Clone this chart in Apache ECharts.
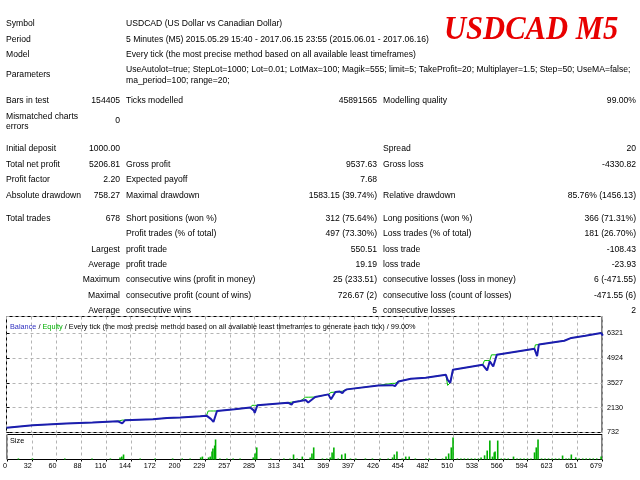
<!DOCTYPE html>
<html><head><meta charset="utf-8">
<script src="https://cdn.jsdelivr.net/npm/echarts@6/dist/echarts.min.js"></script>
<style>html,body{margin:0;padding:0;background:#fff}#c{width:640px;height:480px}</style>
</head><body><div id="c"></div><script>
// ---- chart data ----
const tradeNo = [0,30,68,98,127,129,132,135,137,167,183,198,221,228,230,233,236,240,260,278,280,282,283,286,321,323,325,327,335,341,344,346,352,367,369,370,375,380,383,385,388,424,440,443,447,461,478,501,503,506,509,543,545,548,551,553,555,559,602,603,605,607,632,634,636,644,660,678,680];
const balance = [1000,1140,1237,1293,1366,1380,1250,1420,1422,1478,1550,1574,1647,1680,1700,1500,1327,1944,2040,2135,2140,1980,1832,2264,2415,2420,2300,2440,2505,2560,2420,2320,2730,2880,2880,2600,3010,3040,2950,3080,3162,3385,3400,3347,3610,3760,3818,3986,3700,3537,4267,4547,4560,4228,4750,4600,4452,5108,5445,5460,5030,5685,5870,5790,5900,6062,6180,6342,6190];
const equity  = [1000,1140,1237,1293,1366,1430,1430,1430,1422,1478,1550,1574,1647,1680,1944,1944,1944,1944,2040,2135,2264,2264,2264,2264,2415,2440,2440,2440,2505,2720,2720,2720,2730,2880,2990,2990,3010,3040,3060,3080,3162,3385,3500,3500,3610,3760,3818,3986,3386,3537,4267,4547,4788,4788,4788,5108,5108,5108,5445,5670,5670,5685,5870,5900,5900,6062,6180,6342,6250];
const sizeTrade = [13,29,66,97,118,129,131,133,152,169,189,200,209,221,223,230,232,234,235,237,238,243,251,258,266,281,283,285,301,316,323,327,331,337,346,348,350,360,365,369,371,373,378,382,386,392,398,409,417,426,435,440,442,445,451,455,459,466,478,482,489,497,501,504,507,509,514,518,522,526,530,534,538,541,545,548,551,554,556,557,560,564,568,572,578,582,586,590,594,598,602,604,606,610,614,618,622,626,630,634,638,641,644,649,653,657,661,665,669,673,678];
const sizeLots  = [0.05,0.05,0.05,0.05,0.05,0.1,0.14,0.24,0.05,0.05,0.05,0.05,0.05,0.1,0.14,0.1,0.14,0.38,0.53,0.67,0.96,0.05,0.05,0.05,0.05,0.1,0.29,0.58,0.05,0.05,0.05,0.24,0.05,0.14,0.1,0.29,0.58,0.05,0.05,0.1,0.34,0.58,0.05,0.24,0.29,0.05,0.05,0.05,0.05,0.05,0.05,0.1,0.24,0.38,0.05,0.14,0.14,0.05,0.05,0.05,0.05,0.05,0.14,0.29,0.58,1.06,0.05,0.05,0.05,0.05,0.05,0.05,0.05,0.1,0.2,0.43,0.91,0.14,0.34,0.38,0.91,0.05,0.05,0.05,0.14,0.05,0.05,0.05,0.05,0.05,0.34,0.58,0.96,0.05,0.05,0.05,0.05,0.05,0.05,0.19,0.05,0.05,0.24,0.1,0.05,0.05,0.05,0.05,0.05,0.05,0.14];
const xTickLabels = ['0','32','60','88','116','144','172','200','229','257','285','313','341','369','397','426','454','482','510','538','566','594','623','651','679'];
const yMin = 732.4, yStep = 1397.2, xMax = 679;

// ---- report text ----
const reportRows = [
  [24,  [[6,'Symbol','left'],[126,'USDCAD (US Dollar vs Canadian Dollar)','left']]],
  [39.3,[[6,'Period','left'],[126,'5 Minutes (M5) 2015.05.29 15:40 - 2017.06.15 23:55 (2015.06.01 - 2017.06.16)','left']]],
  [54.5,[[6,'Model','left'],[126,'Every tick (the most precise method based on all available least timeframes)','left']]],
  [75,  [[6,'Parameters','left']]],
  [70,  [[126,'UseAutolot=true; StepLot=1000; Lot=0.01; LotMax=100; Magik=555; limit=5; TakeProfit=20; Multiplayer=1.5; Step=50; UseMA=false;','left']]],
  [80.7,[[126,'ma_period=100; range=20;','left']]],
  [101, [[6,'Bars in test','left'],[120,'154405','right'],[126,'Ticks modelled','left'],[377,'45891565','right'],[383,'Modelling quality','left'],[636,'99.00%','right']]],
  [116.7,[[6,'Mismatched charts','left']]],
  [126.7,[[6,'errors','left']]],
  [121, [[120,'0','right']]],
  [149, [[6,'Initial deposit','left'],[120,'1000.00','right'],[383,'Spread','left'],[636,'20','right']]],
  [164.5,[[6,'Total net profit','left'],[120,'5206.81','right'],[126,'Gross profit','left'],[377,'9537.63','right'],[383,'Gross loss','left'],[636,'-4330.82','right']]],
  [180, [[6,'Profit factor','left'],[120,'2.20','right'],[126,'Expected payoff','left'],[377,'7.68','right']]],
  [195.5,[[6,'Absolute drawdown','left'],[120,'758.27','right'],[126,'Maximal drawdown','left'],[377,'1583.15 (39.74%)','right'],[383,'Relative drawdown','left'],[636,'85.76% (1456.13)','right']]],
  [218.5,[[6,'Total trades','left'],[120,'678','right'],[126,'Short positions (won %)','left'],[377,'312 (75.64%)','right'],[383,'Long positions (won %)','left'],[636,'366 (71.31%)','right']]],
  [234, [[126,'Profit trades (% of total)','left'],[377,'497 (73.30%)','right'],[383,'Loss trades (% of total)','left'],[636,'181 (26.70%)','right']]],
  [249.3,[[120,'Largest','right'],[126,'profit trade','left'],[377,'550.51','right'],[383,'loss trade','left'],[636,'-108.43','right']]],
  [264.6,[[120,'Average','right'],[126,'profit trade','left'],[377,'19.19','right'],[383,'loss trade','left'],[636,'-23.93','right']]],
  [280, [[120,'Maximum','right'],[126,'consecutive wins (profit in money)','left'],[377,'25 (233.51)','right'],[383,'consecutive losses (loss in money)','left'],[636,'6 (-471.55)','right']]],
  [295.4,[[120,'Maximal','right'],[126,'consecutive profit (count of wins)','left'],[377,'726.67 (2)','right'],[383,'consecutive loss (count of losses)','left'],[636,'-471.55 (6)','right']]],
  [310.7,[[120,'Average','right'],[126,'consecutive wins','left'],[377,'5','right'],[383,'consecutive losses','left'],[636,'2','right']]]
];

const FF = '"Liberation Sans", Arial, sans-serif';
const graphics = [];
reportRows.forEach(function(row){
  row[1].forEach(function(it){
    graphics.push({type:'text', x: it[0], y: row[0], z: 10, silent:true,
      style:{text: it[1], fill:'#000', fontSize: 8.6, fontFamily: FF, align: it[2], verticalAlign:'middle'}});
  });
});
graphics.push({type:'text', x: 444, y: 30, scaleX: 0.9, z: 10,
  style:{text:'USDCAD M5', fill:'#e80000', fontSize: 34, fontFamily:'"Liberation Serif", "Times New Roman", serif', fontWeight:'bold', fontStyle:'italic', align:'left', verticalAlign:'middle'}});
graphics.push({type:'text', x: 10, y: 326.5, z: 10,
  style:{text:'{b|Balance} / {e|Equity} / Every tick (the most precise method based on all available least timeframes to generate each tick) / 99.00%',
    fill:'#000', fontSize:7.3, fontFamily: FF, align:'left', verticalAlign:'middle',
    rich:{b:{fill:'#3030c0', fontSize:7.3, fontFamily:FF}, e:{fill:'#00b000', fontSize:7.3, fontFamily:FF}}}});
graphics.push({type:'text', x: 10, y: 440.5, z: 10,
  style:{text:'Size', fill:'#000', fontSize:7.3, fontFamily: FF, align:'left', verticalAlign:'middle'}});

const balData = tradeNo.map(function(t,i){return [t, balance[i]];});
const eqData = tradeNo.map(function(t,i){return [t, equity[i]];});
const sizeData = sizeTrade.map(function(t,i){return [t, sizeLots[i]];});
const xInterval = xMax / 24;
const split = {show:true, lineStyle:{color:'#b4b4b4', type:[3,3], width:1}};

const chart = echarts.init(document.getElementById('c'), null, {renderer:'canvas'});
chart.setOption({
  animation:false,
  backgroundColor:'#fff',
  grid:[
    {left:6.5, top:316.5, width:595.5, height:116, show:true, borderColor:'#000', borderWidth:1, backgroundColor:'#fff'},
    {left:6.5, top:434.5, width:595.5, height:25, show:true, borderColor:'#000', borderWidth:1, backgroundColor:'#fff'}
  ],
  xAxis:[
    {type:'value', gridIndex:0, min:0, max:xMax, interval:xInterval, axisLine:{show:false}, axisTick:{show:false}, axisLabel:{show:false}, splitLine:split},
    {type:'value', gridIndex:1, min:0, max:xMax, interval:xInterval, axisLine:{show:false}, axisTick:{show:true, length:2, lineStyle:{color:'#000'}},
      axisLabel:{show:true, fontSize:7.2, fontFamily:FF, color:'#000', align:'right', margin:3,
        formatter:function(v){return xTickLabels[Math.round(v / xInterval)];}},
      splitLine:split}
  ],
  yAxis:[
    {type:'value', gridIndex:0, position:'right', min:yMin, max:7268, interval:yStep,
      axisLine:{show:false}, axisTick:{show:true, length:3, lineStyle:{color:'#000'}},
      axisLabel:{show:true, fontSize:7.2, fontFamily:FF, color:'#000', margin:5, showMaxLabel:false,
        formatter:function(v){return String(Math.round(v));}},
      splitLine:split},
    {type:'value', gridIndex:1, min:0, max:1.2, show:false, splitLine:{show:false}}
  ],
  series:[
    {type:'line', xAxisIndex:0, yAxisIndex:0, data:eqData, showSymbol:false, lineStyle:{color:'#00c000', width:1}, z:2},
    {type:'line', xAxisIndex:0, yAxisIndex:0, data:balData, showSymbol:false, lineStyle:{color:'#1c1cb0', width:2}, z:3},
    {type:'bar', xAxisIndex:1, yAxisIndex:1, data:sizeData, barWidth:1.6, itemStyle:{color:'#00b000'}, z:2}
  ],
  graphic: graphics
});
</script></body></html>
